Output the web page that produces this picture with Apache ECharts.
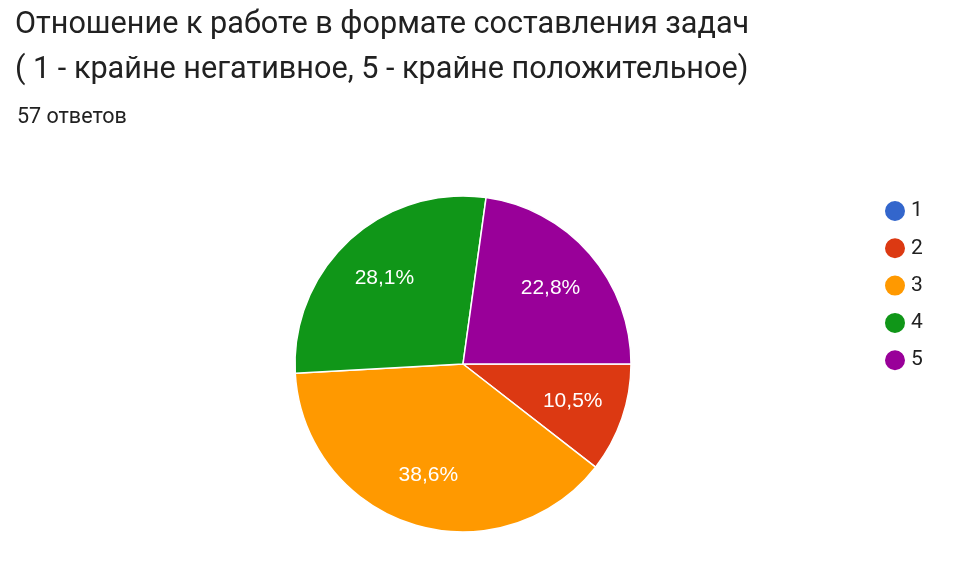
<!DOCTYPE html>
<html><head><meta charset="utf-8">
<script src="https://cdn.jsdelivr.net/npm/echarts@6/dist/echarts.min.js"></script>
<style>html,body{margin:0;padding:0;background:#fff}#c{width:957px;height:565px}</style>
</head><body><div id="c"></div>
<script>
const categories = ['1','2','3','4','5'];
const counts = [0, 6, 22, 16, 13];
const colors = ['#3366cc','#dc3912','#ff9900','#109618','#990099'];
const total = counts.reduce((a,b)=>a+b,0);
const fmt = p=>p.value>0?(p.value/total*100).toFixed(1).replace('.',',')+'%':'';
const chart = echarts.init(document.getElementById('c'));
chart.setOption({
  animation:false,
  title:[
    {text:'Отношение к работе в формате составления задач\n( 1 - крайне негативное, 5 - крайне положительное)',left:10,top:-2,
     textStyle:{fontFamily:'Roboto',fontSize:30.6,fontWeight:'normal',color:'#212121',lineHeight:45}},
    {text:'57 ответов',left:12,top:102,textStyle:{fontFamily:'Roboto',fontSize:21.5,fontWeight:'normal',color:'#212121'}}
  ],
  legend:{orient:'vertical',left:878,top:194,itemGap:13.3,icon:'circle',itemWidth:22,itemHeight:22,
    textStyle:{fontFamily:'Roboto',fontSize:21,color:'#212121'},
    data:categories.map((c,i)=>({name:c,itemStyle:{color:colors[i]}}))},
  series:[{type:'pie',center:[463,364],radius:[0,168],startAngle:0,clockwise:true,
    itemStyle:{borderColor:'#fff',borderWidth:1.5},
    label:{show:false},labelLine:{show:false},
    data:categories.map((c,i)=>({name:c,value:counts[i],itemStyle:{color:colors[i]}}))
  },{type:'pie',center:[463,364],radius:[0,226],startAngle:0,clockwise:true,silent:true,
    label:{position:'inside',color:'#fff',fontFamily:'Arial',fontSize:21,formatter:fmt},
    labelLine:{show:false},
    data:categories.map((c,i)=>({name:c,value:counts[i],itemStyle:{color:'rgba(0,0,0,0)'}}))
  }]
});
</script></body></html>
